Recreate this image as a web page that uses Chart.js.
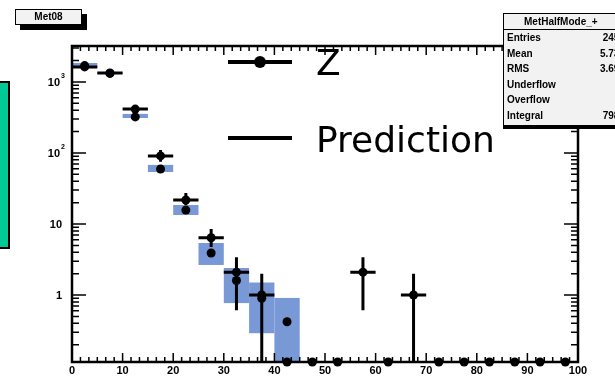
<!DOCTYPE html>
<html>
<head>
<meta charset="utf-8">
<script src="https://cdn.jsdelivr.net/npm/chart.js@4.4.0/dist/chart.umd.min.js"></script>
<style>
  html, body { margin: 0; padding: 0; background: #fff; overflow: hidden; }
  #wrap { position: relative; width: 615px; height: 376px; }
  #teal { position: absolute; left: -3px; top: 81px; width: 9px; height: 164px;
          background: #00c896; border: 2px solid #000; }
  #title { position: absolute; left: 15px; top: 9px; width: 65px; height: 14px;
           background: #f2f2f2; border: 1px solid #000; box-shadow: 5px 5px 0 #000;
           font: bold 10px "Liberation Sans", Arial, sans-serif; text-align: center; line-height: 14px; }
  #stats { position: absolute; left: 503px; top: 13px; width: 135px; height: 111px;
           background: #f2f2f2; border: 1px solid #000; box-shadow: 0 3px 0 #000;
           font: bold 10px "Liberation Sans", Arial, sans-serif; }
  #stats .hd { height: 15px; line-height: 15px; border-bottom: 1px solid #000; padding-left: 20px; }
  #stats .row { position: relative; height: 15.6px; line-height: 15.6px; padding-left: 3px; }
  #stats .row span { position: absolute; right: 14px; top: 0; }
</style>
</head>
<body>
<div id="wrap">
  <canvas id="c" width="615" height="376"></canvas>
  <div id="teal"></div>
  <div id="title">Met08</div>
  <div id="stats">
    <div class="hd">MetHalfMode_+</div>
    <div class="row">Entries<span>2456</span></div>
    <div class="row">Mean<span>5.733</span></div>
    <div class="row">RMS<span>3.698</span></div>
    <div class="row">Underflow<span>0</span></div>
    <div class="row">Overflow<span>0</span></div>
    <div class="row">Integral<span>7983</span></div>
  </div>
</div>
<script>
// bins of width 5 from 0 to 100
const binCenters = [2.5, 7.5, 12.5, 17.5, 22.5, 27.5, 32.5, 37.5, 42.5, 47.5,
                    52.5, 57.5, 62.5, 67.5, 72.5, 77.5, 82.5, 87.5, 92.5, 97.5];
const binWidth = 5;

// Z points (with vertical error range)
const zValues = [1630, 1340, 415, 91, 21.8, 6.4, 2.1, 1.0, 0, 0, 0, 2.1, 0, 1.0, 0, 0, 0, 0, 0, 0];
const zHigh   = [1700, 1400, 474, 110, 27.3, 8.5, 3.4, 2.0, 0, 0, 0, 3.4, 0, 2.0, 0, 0, 0, 0, 0, 0];
const zLow    = [1560, 1280, 343, 75, 18.5, 4.75, 0.61, 0, 0, 0, 0, 0.61, 0, 0, 0, 0, 0, 0, 0, 0];

// prediction with its uncertainty band
const predValues = [1700, 1320, 322, 59.5, 15.7, 3.9, 1.6, 0.9, 0.42];
const predHigh   = [1850, 1350, 355, 68, 18.5, 5.4, 2.4, 1.5, 0.91];
const predLow    = [1575, 1300, 311, 54, 13.4, 2.65, 0.77, 0.29, 0];

const xTickLabels = ['0', '10', '20', '30', '40', '50', '60', '70', '80', '90', '100'];
const yTickLabels = [{ v: 1000, base: '10', sup: '3' }, { v: 100, base: '10', sup: '2' },
                     { v: 10, base: '10', sup: '' }, { v: 1, base: '1', sup: '' }];

const Y_MIN = 0.114, Y_MAX = 3210;
const BAND = 'rgb(120, 152, 214)';

function yPix(scale, v) {
    return scale.getPixelForValue(Math.max(v, Y_MIN));
}

// boxes and error bars under the points
const errorPlugin = {
    id: 'errors',
    beforeDatasetsDraw(chart) {
        const { ctx, scales: { x, y } } = chart;
        ctx.save();
        ctx.fillStyle = BAND;
        predValues.forEach((v, i) => {
            const x0 = x.getPixelForValue(binCenters[i] - binWidth / 2);
            const x1 = x.getPixelForValue(binCenters[i] + binWidth / 2);
            const yt = yPix(y, predHigh[i]);
            const yb = yPix(y, predLow[i]);
            ctx.fillRect(x0, yt, x1 - x0, yb - yt);
        });
        ctx.strokeStyle = '#000';
        ctx.lineWidth = 3;
        zValues.forEach((v, i) => {
            if (v <= 0) return;
            const xc = x.getPixelForValue(binCenters[i]);
            const x0 = x.getPixelForValue(binCenters[i] - binWidth / 2);
            const x1 = x.getPixelForValue(binCenters[i] + binWidth / 2);
            const yc = yPix(y, v);
            ctx.beginPath();
            ctx.moveTo(x0, yc); ctx.lineTo(x1, yc);
            ctx.moveTo(xc, yPix(y, zHigh[i])); ctx.lineTo(xc, yPix(y, zLow[i]));
            ctx.stroke();
        });
        ctx.restore();
    }
};

// ROOT-like frame with inward ticks, labels and legend
const framePlugin = {
    id: 'frame',
    afterDraw(chart) {
        const { ctx, chartArea: a, scales: { x, y } } = chart;
        ctx.save();
        ctx.strokeStyle = '#000';
        ctx.lineWidth = 1.5;
        ctx.beginPath();
        for (let k = 0; k <= 60; k++) {
            const px = x.getPixelForValue(k * 10 / 6);
            const len = k % 6 === 0 ? 9 : 5;
            ctx.moveTo(px, a.bottom); ctx.lineTo(px, a.bottom - len);
            ctx.moveTo(px, a.top); ctx.lineTo(px, a.top + len);
        }
        for (let d = -1; d <= 3; d++) {
            for (let m = 1; m <= 9; m++) {
                const v = m * Math.pow(10, d);
                if (v < Y_MIN || v > Y_MAX) continue;
                const py = y.getPixelForValue(v);
                const len = m === 1 ? 14 : 7;
                ctx.moveTo(a.left, py); ctx.lineTo(a.left + len, py);
                ctx.moveTo(a.right, py); ctx.lineTo(a.right - len, py);
            }
        }
        ctx.stroke();
        ctx.lineWidth = 2.5;
        ctx.strokeRect(a.left, a.top, a.right - a.left, a.bottom - a.top);

        ctx.fillStyle = '#000';
        ctx.font = 'bold 11px "Liberation Sans", Arial, sans-serif';
        ctx.textAlign = 'center';
        ctx.textBaseline = 'middle';
        xTickLabels.forEach((t, i) => {
            ctx.fillText(t, x.getPixelForValue(i * 10), 371);
        });
        ctx.textAlign = 'right';
        yTickLabels.forEach(t => {
            const py = y.getPixelForValue(t.v);
            if (t.sup) {
                ctx.font = 'bold 11px "Liberation Sans", Arial, sans-serif';
                ctx.fillText(t.base, 60, py + 1);
                ctx.font = 'bold 7px "Liberation Sans", Arial, sans-serif';
                ctx.fillText(t.sup, 65, py - 6);
            } else {
                ctx.font = 'bold 11px "Liberation Sans", Arial, sans-serif';
                ctx.fillText(t.base, 62, py + 1);
            }
        });

        // legend
        ctx.lineWidth = 4;
        ctx.beginPath();
        ctx.moveTo(228, 62); ctx.lineTo(292, 62);
        ctx.moveTo(228, 138); ctx.lineTo(292, 138);
        ctx.stroke();
        ctx.beginPath();
        ctx.arc(260, 62, 6, 0, Math.PI * 2);
        ctx.fill();
        ctx.font = '36px "DejaVu Sans", sans-serif';
        ctx.textAlign = 'left';
        ctx.textBaseline = 'alphabetic';
        ctx.fillText('Z', 316, 75);
        ctx.fillText('Prediction', 316, 152);
        ctx.restore();
    }
};

new Chart(document.getElementById('c'), {
    type: 'scatter',
    data: {
        datasets: [
            {
                label: 'Prediction',
                data: predValues.map((v, i) => ({ x: binCenters[i], y: v })),
                pointRadius: 4.5,
                pointBackgroundColor: '#000',
                pointBorderWidth: 0,
                clip: false
            },
            {
                label: 'Z',
                data: zValues.map((v, i) => ({ x: binCenters[i], y: v > 0 ? v : Y_MIN })),
                pointRadius: 4.5,
                pointBackgroundColor: '#000',
                pointBorderWidth: 0,
                clip: false
            }
        ]
    },
    options: {
        responsive: false,
        animation: false,
        devicePixelRatio: 1,
        layout: { padding: { left: 72, right: 37, top: 46, bottom: 14 } },
        plugins: { legend: { display: false }, tooltip: { enabled: false } },
        scales: {
            x: { type: 'linear', min: 0, max: 100, display: false },
            y: { type: 'logarithmic', min: Y_MIN, max: Y_MAX, display: false }
        }
    },
    plugins: [errorPlugin, framePlugin]
});
</script>
</body>
</html>
